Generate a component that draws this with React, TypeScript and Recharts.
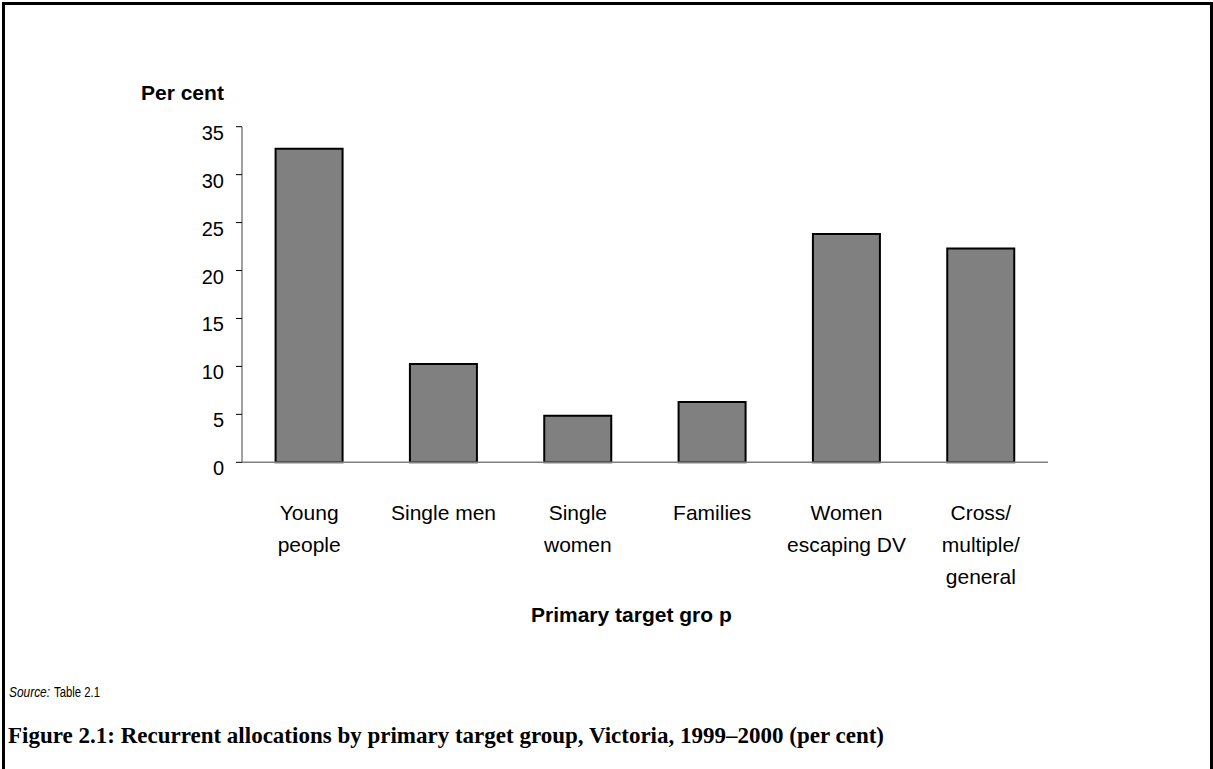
import { Bar, BarChart, XAxis, YAxis } from "recharts";

const categories = [
  "Young\npeople",
  "Single men",
  "Single\nwomen",
  "Families",
  "Women\nescaping DV",
  "Cross/\nmultiple/\ngeneral",
];
const shares = [32.7, 10.25, 4.86, 6.29, 23.8, 22.3];
const yTicks = [0, 5, 10, 15, 20, 25, 30, 35];

const data = categories.map((group, i) => ({ group, share: shares[i] }));

const sans = "'Liberation Sans', Arial, sans-serif";
const serif = "'Liberation Serif', 'Times New Roman', serif";

function XTick({ x, y, payload }: any) {
  const lines = String(payload.value).split("\n");
  return (
    <text x={x} y={y} textAnchor="middle" fontSize={21} fontFamily={sans} fill="#000">
      {lines.map((l, i) => (
        <tspan key={i} x={x} dy={i === 0 ? 58 : 32}>
          {l}
        </tspan>
      ))}
    </text>
  );
}

function YTick({ x, y, payload }: any) {
  return (
    <text x={x} y={y + 13} textAnchor="end" fontSize={20} fontFamily={sans} fill="#000">
      {payload.value}
    </text>
  );
}

export default function App() {
  return (
    <div
      style={{
        position: "absolute",
        left: 0,
        top: 0,
        width: 1213,
        height: 769,
        overflow: "hidden",
        background: "#fff",
      }}
    >
      <div
        style={{
          position: "absolute",
          left: 2,
          top: 2,
          width: 1211,
          height: 900,
          boxSizing: "border-box",
          border: "3px solid #000",
        }}
      />
      <div style={{ position: "absolute", left: 0, top: 0 }}>
        <BarChart
          width={1213}
          height={769}
          data={data}
          margin={{ top: 126.7, right: 165, bottom: 156.7, left: 172 }}
          barCategoryGap="25%"
        >
          <XAxis
            dataKey="group"
            height={150}
            interval={0}
            tickLine={false}
            tickSize={0}
            tickMargin={0}
            axisLine={{ stroke: "#808080", strokeWidth: 1.5 }}
            tick={<XTick />}
          />
          <YAxis
            width={70}
            domain={[0, 35]}
            ticks={yTicks}
            interval={0}
            tickSize={6}
            tickMargin={12}
            axisLine={{ stroke: "#808080", strokeWidth: 1.5 }}
            tickLine={{ stroke: "#000" }}
            tick={<YTick />}
          />
          <Bar
            dataKey="share"
            fill="#808080"
            stroke="#000"
            strokeWidth={2}
            isAnimationActive={false}
          />
        </BarChart>
      </div>
      <svg
        width={1213}
        height={769}
        style={{ position: "absolute", left: 0, top: 0, pointerEvents: "none" }}
      >
        <text x={141} y={100} fontSize={21} fontWeight="bold" fontFamily={sans} fill="#000">
          Per cent
        </text>
        <text x={531} y={622} fontSize={21} fontWeight="bold" fontFamily={sans} fill="#000">
          Primary target gro p
        </text>
        <text
          x={9}
          y={697}
          fontSize={14}
          fontStyle="italic"
          fontFamily={sans}
          fill="#000"
          textLength={41}
          lengthAdjust="spacingAndGlyphs"
        >
          Source:
        </text>
        <text
          x={54}
          y={697}
          fontSize={14}
          fontFamily={sans}
          fill="#000"
          textLength={46}
          lengthAdjust="spacingAndGlyphs"
        >
          Table 2.1
        </text>
        <text x={8} y={743} fontSize={23} fontWeight="bold" fontFamily={serif} fill="#000">
          Figure 2.1: Recurrent allocations by primary target group, Victoria, 1999–2000 (per cent)
        </text>
      </svg>
    </div>
  );
}
